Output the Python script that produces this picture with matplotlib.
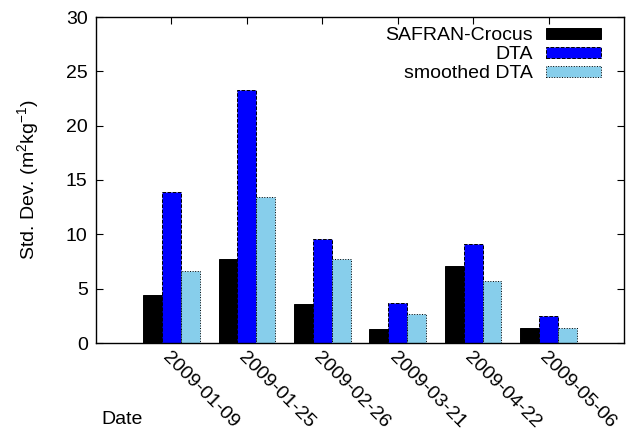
import matplotlib
matplotlib.use("Agg")
import matplotlib.pyplot as plt
import matplotlib.transforms as mtransforms
import numpy as np

plt.rcParams["font.family"] = ["Liberation Sans", "DejaVu Sans"]
plt.rcParams["mathtext.default"] = "regular"

dates = ["2009-01-09", "2009-01-25", "2009-02-26", "2009-03-21", "2009-04-22", "2009-05-06"]
safran_crocus = [4.4, 7.7, 3.6, 1.3, 7.1, 1.4]
dta = [13.9, 23.3, 9.6, 3.7, 9.1, 2.5]
smoothed_dta = [6.6, 13.4, 7.7, 2.7, 5.7, 1.4]

series = [
    ("SAFRAN-Crocus", safran_crocus, "#000000", "-"),
    ("DTA", dta, "#0000ff", "--"),
    ("smoothed DTA", smoothed_dta, "#87ceeb", ":"),
]

FS = 14

fig = plt.figure(figsize=(6.32, 4.32), dpi=100)
ax = fig.add_axes([96 / 632, 1 - 343 / 432, 528 / 632, 326 / 432])

x = np.arange(len(dates))
width = 0.25
for i, (name, vals, color, ls) in enumerate(series):
    ax.bar(x + (i - 1) * width, vals, width, color=color, edgecolor="black",
           linestyle=ls, linewidth=0.7, label=name)

ax.set_xlim(-1, 6)
ax.set_ylim(0, 30)
ax.set_xticks(x)
ax.set_xticklabels(dates, rotation=-45, ha="left", va="top", rotation_mode="anchor")
# nudge the slanted date labels a little to the right of their ticks
shift = mtransforms.ScaledTranslation(5 / 100, 0, fig.dpi_scale_trans)
for lbl in ax.get_xticklabels():
    lbl.set_transform(lbl.get_transform() + shift)
ax.set_yticks(np.arange(0, 31, 5))
ax.tick_params(axis="both", direction="in", length=5, width=0.8, labelsize=FS,
               top=True, right=True, bottom=False)
ax.tick_params(axis="x", pad=4)
ax.tick_params(axis="y", pad=6)
ax.set_axisbelow(True)
for s in ax.spines.values():
    s.set_linewidth(1.0)

ax.set_ylabel("Std. Dev. (m$^2$kg$^{-1}$)", fontsize=FS)
ax.yaxis.set_label_coords(-0.105, 0.5)
ax.set_xlabel("Date", fontsize=FS, ha="left", va="baseline")
ax.xaxis.set_label_coords(0.011, -0.25)

ax.legend(loc="upper right", frameon=False, markerfirst=False, fontsize=FS,
          handlelength=2.8, handleheight=0.5, labelspacing=0.1, handletextpad=0.7,
          borderpad=0.0, borderaxespad=0.0, bbox_to_anchor=(0.956, 0.968))

fig.savefig("out.png", dpi=100)
